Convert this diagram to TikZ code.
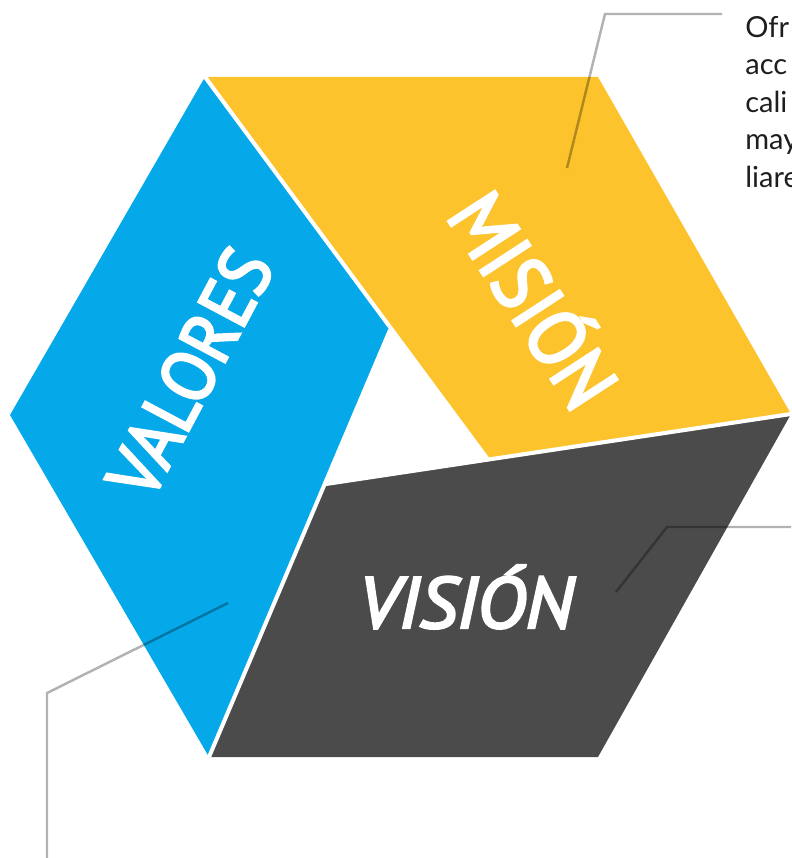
\documentclass[tikz,border=0pt]{standalone}
\usepackage{fontspec}
\setsansfont{PT Sans}
\newfontfamily\wordfont[FakeBold=3.5]{PT Sans}
\newfontfamily\notefont{Lato}
\definecolor{misionyellow}{HTML}{FCC32D}
\definecolor{valoresblue}{HTML}{05A8E8}
\definecolor{visiongray}{HTML}{4A4B4A}
\definecolor{notetext}{HTML}{1E1E1E}
\tikzset{
  leader/.style={black, opacity=0.3, line width=1.4pt},
  gapline/.style={white, line width=2.3pt},
  bigword/.style={white, inner sep=0pt, font=\wordfont\fontsize{45}{45}\selectfont},
  note/.style={notetext, inner sep=0pt, anchor=base west, font=\notefont\fontsize{16.5}{21}\selectfont},
}

\begin{document}
\begin{tikzpicture}[x=0.02cm, y=-0.02cm]
    \useasboundingbox (0,0) rectangle (791,858);

    \coordinate (hexA) at (205,77);
    \coordinate (hexB) at (598,77);
    \coordinate (hexC) at (791,414);
    \coordinate (hexD) at (598,757);
    \coordinate (hexE) at (209,757);
    \coordinate (hexF) at (10,415);
    \coordinate (inP) at (390,330);
    \coordinate (inQ) at (488,459.6);
    \coordinate (inR) at (326,484);

    \fill[misionyellow] (hexA) -- (hexB) -- (hexC) -- (inQ) -- cycle;
    \fill[valoresblue] (hexA) -- (inP) -- (hexE) -- (hexF) -- cycle;
    \fill[visiongray] (inR) -- (hexC) -- (hexD) -- (hexE) -- cycle;

    \draw[gapline] (hexA) -- (inQ);
    \draw[gapline] (inR) -- (hexC);
    \draw[gapline] (inP) -- (hexE);

    \node[bigword, rotate=-57, xscale=0.92] (mision) at (538,297) {MISIÓN};
    \node[bigword, rotate=62, xscale=0.93, font=\wordfont\fontsize{42}{42}\selectfont] (valores) at (190,373) {VALORES};
    \node[bigword, xscale=1.03, font=\wordfont\itshape\fontsize{41}{41}\selectfont] (vision) at (466,597) {VISIÓN};

    \foreach \t [count=\i] in {Ofr,acc,cali,may,liare}
        \node[note] (note\i) at (745,37.5*\i) {\t};

    \coordinate (misionpin) at (567,168);
    \coordinate (misionbend) at (605,14);
    \coordinate (misionend) at (722,14);
    \draw[leader] (misionpin) -- (misionbend) -- (misionend);

    \coordinate (visionpin) at (616,592);
    \coordinate (visionbend) at (667,527);
    \coordinate (visionend) at (791,527);
    \draw[leader] (visionpin) -- (visionbend) -- (visionend);

    \coordinate (valorespin) at (228,603);
    \coordinate (valoresbend) at (47,693);
    \coordinate (valoresend) at (47,858);
    \draw[leader] (valorespin) -- (valoresbend) -- (valoresend);
\end{tikzpicture}
\end{document}
